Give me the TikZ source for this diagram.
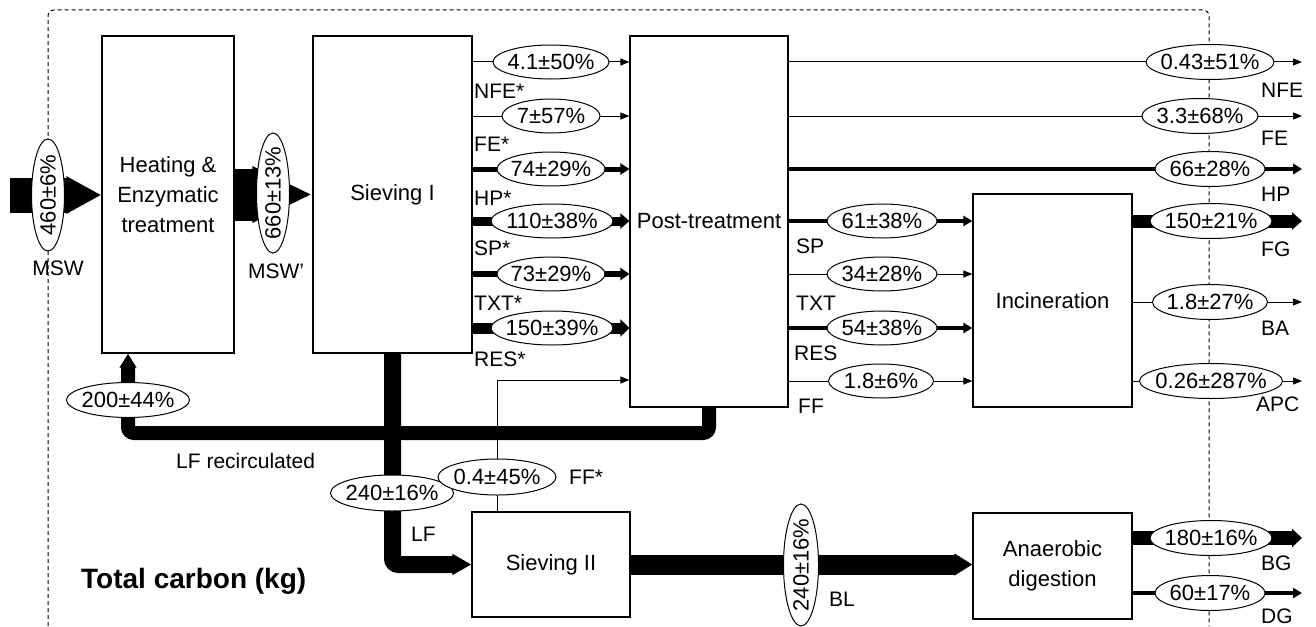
\documentclass[tikz,border=0pt]{standalone}
\usepackage{fontspec}
\setmainfont{Liberation Sans}
\usetikzlibrary{arrows.meta,shapes.geometric}
\pgfdeclarelayer{bg}
\pgfsetlayers{bg,main}
\newcommand\fs{\fontsize{22}{30}\selectfont}
\newcommand\fl{\fontsize{21}{26}\selectfont}
\newcommand\ET[1]{\makebox[0pt]{#1}}
\begin{document}
\begin{tikzpicture}[x=1pt,y=-1pt,
  box/.style={draw, fill=white, line width=1.2pt, inner sep=0pt, align=center, font=\fs},
  ell/.style={ellipse, draw, fill=white, line width=1pt, inner sep=0pt, minimum height=34, minimum width=#1, font=\fs},
  vell/.style={ellipse, draw, fill=white, line width=1pt, inner sep=0pt, minimum height=34, minimum width=#1, rotate=90, font=\fs},
  lab/.style={anchor=base west, inner sep=0pt, font=\fl},
  labc/.style={anchor=base, inner sep=0pt, font=\fl},
  fl/.style={line width=#1, -{Triangle[length=9pt,width=6pt 1]}},
  bound/.style={dashed, dash pattern=on 4pt off 3pt, line width=1pt, rounded corners=6pt}
]
\useasboundingbox (0,0) rectangle (1316,626);

% boxes
\node[box, minimum width=132, minimum height=317] (heat) at (168,194.5) {Heating \&\\Enzymatic\\treatment};
\node[box, minimum width=159, minimum height=317] (s1) at (392.5,194.5) {Sieving I};
\node[box, minimum width=158, minimum height=371] (post) at (709,221.5) {Post-treatment};
\node[box, minimum width=159, minimum height=213] (inc) at (1052.5,300.5) {Incineration};
\node[box, minimum width=158, minimum height=105] (s2) at (551,564.5) {Sieving II};
\node[box, minimum width=159, minimum height=106] (ad) at (1052.5,566) {Anaerobic\\digestion};

% ellipses
\node[vell=112, minimum height=33] (emsw) at (48,195) {\ET{460±6\%}};
\node[vell=120, minimum height=33] (emsw2) at (273,193) {\ET{660±13\%}};
\node[ell=116] (a1) at (551,62) {\ET{4.1±50\%}};
\node[ell=98] (a2) at (551,116) {\ET{7±57\%}};
\node[ell=108] (a3) at (551,169) {\ET{74±29\%}};
\node[ell=122] (a4) at (552,221) {\ET{110±38\%}};
\node[ell=108] (a5) at (551,274) {\ET{73±29\%}};
\node[ell=122] (a6) at (552,328) {\ET{150±39\%}};
\node[ell=110] (b1) at (882,221) {\ET{61±38\%}};
\node[ell=110] (b2) at (882,274) {\ET{34±28\%}};
\node[ell=110] (b3) at (882,328) {\ET{54±38\%}};
\node[ell=105] (b4) at (881,381) {\ET{1.8±6\%}};
\node[ell=128, minimum height=35] (c1) at (1210,62) {\ET{0.43±51\%}};
\node[ell=116, minimum height=35] (c2) at (1200,116) {\ET{3.3±68\%}};
\node[ell=110, minimum height=35] (c3) at (1210,169) {\ET{66±28\%}};
\node[ell=122, minimum height=35] (c4) at (1211,221) {\ET{150±21\%}};
\node[ell=115, minimum height=35] (c5) at (1210,302) {\ET{1.8±27\%}};
\node[ell=143, minimum height=35] (c6) at (1211,381) {\ET{0.26±287\%}};
\node[ell=122, minimum height=35] (c7) at (1211,538) {\ET{180±16\%}};
\node[ell=110, minimum height=35] (c8) at (1210,593) {\ET{60±17\%}};
\node[ell=123, minimum height=35] (erc) at (128,400) {\ET{200±44\%}};
\node[ell=123, minimum height=36] (elf) at (392,493) {\ET{240±16\%}};
\node[ell=118, minimum height=36] (eff) at (497,477) {\ET{0.4±45\%}};
\node[vell=122, minimum height=35] (ebl) at (801,565) {\ET{240±16\%}};

% free-end coordinates
\coordinate (min) at (10,195);
\coordinate (rt) at (1302,0);
\coordinate (rc) at (709,433);
\coordinate (rl) at (128,433);
\coordinate (ffc) at (497,380);

% labels
\node[labc] (lmsw) at (58,275) {MSW};
\node[labc] (lmsw2) at (276,278) {MSW'};
\node[lab] at (474,98) {NFE*};
\node[lab] at (474,151) {FE*};
\node[lab] at (474,205) {HP*};
\node[lab] at (474,255) {SP*};
\node[lab] at (474,310) {TXT*};
\node[lab] at (474,366) {RES*};
\node[lab] at (796,253) {SP};
\node[lab] at (796,310) {TXT};
\node[lab] at (794,360) {RES};
\node[lab] at (798,413) {FF};
\node[lab] at (1261,97) {NFE};
\node[lab] at (1261,145) {FE};
\node[lab] at (1261,201) {HP};
\node[lab] at (1261,256) {FG};
\node[lab] at (1261,335) {BA};
\node[lab] at (1256,411) {APC};
\node[lab] at (1261,570) {BG};
\node[lab] at (1261,623) {DG};
\node[lab] at (411,541) {LF};
\node[lab] at (569,484) {FF*};
\node[lab] at (829,606) {BL};
\node[lab] at (176,468) {LF recirculated};
\node[anchor=base west, inner sep=0pt, font=\fontsize{28}{32}\selectfont\bfseries] at (81,588) {Total carbon (kg)};

\begin{pgfonlayer}{bg}
\draw[bound] (48,626) -- (48,10) -- (1209,10) -- (1209,626);

\draw[line width=35pt, -{Triangle[length=35pt,width=35pt]}] (min) -- (min -| heat.west);
\draw[line width=52pt, -{Triangle[length=60pt,width=52pt]}] (heat.east) -- (s1.west);

\draw[fl=1] (s1.east |- a1) -- (post.west |- a1);
\draw[fl=1] (s1.east |- a2) -- (post.west |- a2);
\draw[fl=5] (s1.east |- a3) -- (post.west |- a3);
\draw[fl=9] (s1.east |- a4) -- (post.west |- a4);
\draw[fl=6] (s1.east |- a5) -- (post.west |- a5);
\draw[fl=11] (s1.east |- a6) -- (post.west |- a6);

\draw[fl=4] (post.east |- b1) -- (inc.west |- b1);
\draw[fl=1] (post.east |- b2) -- (inc.west |- b2);
\draw[fl=4] (post.east |- b3) -- (inc.west |- b3);
\draw[fl=1] (post.east |- b4) -- (inc.west |- b4);

\draw[fl=1] (post.east |- c1) -- (rt |- c1);
\draw[fl=1] (post.east |- c2) -- (rt |- c2);
\draw[fl=4.5] (post.east |- c3) -- (rt |- c3);
\draw[line width=13pt, -{Triangle[length=10pt,width=17pt]}] (inc.east |- c4) -- (rt |- c4);
\draw[fl=1] (inc.east |- c5) -- (rt |- c5);
\draw[fl=1] (inc.east |- c6) -- (rt |- c6);
\draw[line width=14pt, -{Triangle[length=10pt,width=18pt]}] (ad.east |- c7) -- (rt |- c7);
\draw[fl=4] (ad.east |- c8) -- (rt |- c8);

\draw[line width=17pt, rounded corners=6pt, -{Triangle[length=19pt,width=20pt]}] (s1.south) -- (s1.south |- s2.west) -- (s2.west);
\draw[line width=14pt, rounded corners=6pt, -{Triangle[length=14pt,width=16pt]}] (post.south -| rc) -- (rc) -- (rl) -- (rl |- heat.south);
\draw[fl=1] (s2.north -| ffc) -- (ffc) -- (ffc -| post.west);
\draw[line width=20pt, -{Triangle[length=18pt,width=21pt]}] (s2.east) -- (s2.east -| ad.west);
\end{pgfonlayer}
\end{tikzpicture}
\end{document}
